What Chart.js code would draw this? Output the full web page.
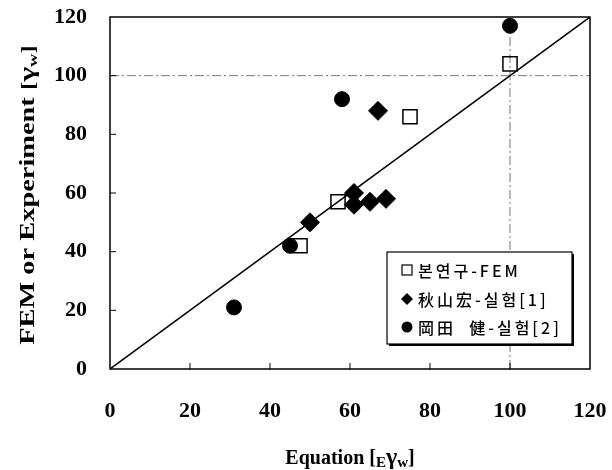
<!DOCTYPE html>
<html>
<head>
<meta charset="utf-8">
<script src="https://cdn.jsdelivr.net/npm/chart.js@4/dist/chart.umd.min.js"></script>
<style>
  body { margin: 0; background: #fff; }
</style>
</head>
<body>
<canvas id="chart" width="612" height="470"></canvas>
<script>
// values
const femX = [47.5, 57, 75, 100];
const femY = [42, 57, 86, 104];
const akiyamaX = [50, 61, 61, 65, 69, 67];
const akiyamaY = [50, 60, 56, 57, 58, 88];
const okadaX = [31, 45, 58, 100];
const okadaY = [21, 42, 92, 117];
const seriesNames = ['본연구-FEM', '秋山宏-실험[1]', '岡田  健-실험[2]'];
const axisMin = 0;
const axisMax = 120;
const tickStep = 20;
const refValue = 100;

const SERIF = '"Liberation Serif", "Times New Roman", serif';
const GOTHIC = '"Noto Sans CJK KR", "Noto Sans", sans-serif';

function toPoints(xs, ys) {
    return xs.map((x, i) => ({ x: x, y: ys[i] }));
}

// inward tick marks, frame, axis titles with subscripts, boxed legend
const decorations = {
    id: 'decorations',
    afterDatasetsDraw(chart) {
        const ctx = chart.ctx;
        const area = chart.chartArea;
        const xs = chart.scales.x;
        const ys = chart.scales.y;
        ctx.save();
        ctx.strokeStyle = '#000';
        ctx.lineWidth = 1.5;
        ctx.strokeRect(area.left, area.top, area.right - area.left, area.bottom - area.top);
        ctx.lineWidth = 1;
        ctx.beginPath();
        for (let v = axisMin + tickStep; v < axisMax; v += tickStep) {
            const px = xs.getPixelForValue(v);
            ctx.moveTo(px, area.bottom);
            ctx.lineTo(px, area.bottom - 6);
            const py = ys.getPixelForValue(v);
            ctx.moveTo(area.left, py);
            ctx.lineTo(area.left + 6, py);
        }
        ctx.stroke();
        ctx.restore();
    },
    afterDraw(chart) {
        const ctx = chart.ctx;
        const area = chart.chartArea;

        // draws pieces (main text and subscripts) starting at x, baseline y
        function drawParts(parts, x, y) {
            parts.forEach(p => {
                ctx.font = p.font;
                ctx.fillText(p.text, x, y + (p.dy || 0));
                x += ctx.measureText(p.text).width;
            });
        }
        function partsWidth(parts) {
            let w = 0;
            parts.forEach(p => { ctx.font = p.font; w += ctx.measureText(p.text).width; });
            return w;
        }

        ctx.save();
        ctx.fillStyle = '#000';
        ctx.textBaseline = 'alphabetic';
        ctx.textAlign = 'left';
        const big = 'bold 20px ' + SERIF;
        const small = 'bold 15px ' + SERIF;
        const gam = 'bold 24px ' + SERIF;
        const brk = 'bold 20px ' + SERIF;

        const xParts = [
            { text: 'Equation ', font: big },
            { text: '[', font: brk },
            { text: 'E', font: small, dy: 3 },
            { text: 'γ', font: gam },
            { text: 'w', font: small, dy: 3 },
            { text: ']', font: brk }
        ];
        const cx = (area.left + area.right) / 2;
        drawParts(xParts, cx - partsWidth(xParts) / 2, 464);

        const yParts = [
            { text: 'FEM or Experiment ', font: big },
            { text: '[', font: 'bold 18px ' + SERIF },
            { text: 'γ', font: 'bold 22px ' + SERIF },
            { text: 'w', font: 'bold 13px ' + SERIF, dy: 3 },
            { text: ']', font: 'bold 18px ' + SERIF }
        ];
        const cy = (area.top + area.bottom) / 2;
        ctx.translate(34, cy + 2);
        ctx.rotate(-Math.PI / 2);
        ctx.scale(1.42, 1);
        drawParts(yParts, -partsWidth(yParts) / 2, 0);
        ctx.restore();

        // legend box
        const bx = 387, by = 252, bw = 185, bh = 92;
        ctx.save();
        ctx.fillStyle = '#000';
        ctx.fillRect(bx + 2, by + 2, bw, bh);
        ctx.fillStyle = '#fff';
        ctx.fillRect(bx, by, bw, bh);
        ctx.strokeStyle = '#000';
        ctx.lineWidth = 1.2;
        ctx.strokeRect(bx, by, bw, bh);

        const rows = [270, 299, 327];
        const mx = 407;
        ctx.fillStyle = '#000';
        // square
        ctx.strokeRect(mx - 5, rows[0] - 5, 10, 10);
        // diamond
        ctx.beginPath();
        ctx.moveTo(mx, rows[1] - 6);
        ctx.lineTo(mx + 6, rows[1]);
        ctx.lineTo(mx, rows[1] + 6);
        ctx.lineTo(mx - 6, rows[1]);
        ctx.closePath();
        ctx.fill();
        // circle
        ctx.beginPath();
        ctx.arc(mx, rows[2], 5.5, 0, Math.PI * 2);
        ctx.fill();

        ctx.font = '500 16px ' + GOTHIC;
        ctx.textBaseline = 'middle';
        if ('letterSpacing' in ctx) ctx.letterSpacing = '3px';
        seriesNames.forEach((name, i) => ctx.fillText(name, 418, rows[i] + 1));
        ctx.restore();
    }
};

const ctx = document.getElementById('chart').getContext('2d');
const chart = new Chart(ctx, {
    type: 'scatter',
    data: {
        datasets: [
            {
                label: seriesNames[0],
                data: toPoints(femX, femY),
                pointStyle: 'rect',
                pointRadius: 10,
                backgroundColor: 'rgba(255,255,255,0)',
                borderColor: '#000',
                borderWidth: 1.5
            },
            {
                label: seriesNames[1],
                data: toPoints(akiyamaX, akiyamaY),
                pointStyle: 'rectRot',
                pointRadius: 9.5,
                backgroundColor: '#000',
                borderColor: '#000',
                borderWidth: 1
            },
            {
                label: seriesNames[2],
                data: toPoints(okadaX, okadaY),
                pointStyle: 'circle',
                pointRadius: 7.5,
                backgroundColor: '#000',
                borderColor: '#000',
                borderWidth: 1
            },
            {
                // 1:1 line
                data: [{ x: axisMin, y: axisMin }, { x: axisMax, y: axisMax }],
                showLine: true,
                pointRadius: 0,
                borderColor: '#000',
                borderWidth: 1.5
            },
            {
                data: [{ x: axisMin, y: refValue }, { x: axisMax, y: refValue }],
                showLine: true,
                pointRadius: 0,
                borderColor: '#777',
                borderWidth: 1,
                borderDash: [9, 3, 2, 3]
            },
            {
                data: [{ x: refValue, y: axisMin }, { x: refValue, y: axisMax }],
                showLine: true,
                pointRadius: 0,
                borderColor: '#777',
                borderWidth: 1,
                borderDash: [9, 3, 2, 3]
            }
        ]
    },
    options: {
        responsive: false,
        animation: false,
        layout: { padding: { top: 17, right: 22, left: 0, bottom: 0 } },
        plugins: {
            legend: { display: false },
            tooltip: { enabled: false }
        },
        scales: {
            x: {
                type: 'linear',
                min: axisMin,
                max: axisMax,
                ticks: {
                    stepSize: tickStep,
                    padding: 29,
                    color: '#000',
                    font: { family: SERIF, size: 22, weight: 'bold' }
                },
                grid: { drawOnChartArea: false, drawTicks: false },
                border: { display: false },
                afterFit: s => {
                    s.height = 101;
                    s.paddingLeft = 0;
                    s.paddingRight = 0;
                }
            },
            y: {
                type: 'linear',
                min: axisMin,
                max: axisMax,
                ticks: {
                    stepSize: tickStep,
                    padding: 23,
                    color: '#000',
                    font: { family: SERIF, size: 22, weight: 'bold' }
                },
                grid: { drawOnChartArea: false, drawTicks: false },
                border: { display: false },
                afterFit: s => {
                    s.width = 110;
                    s.paddingTop = 0;
                    s.paddingBottom = 0;
                }
            }
        }
    },
    plugins: [decorations]
});
</script>
</body>
</html>
